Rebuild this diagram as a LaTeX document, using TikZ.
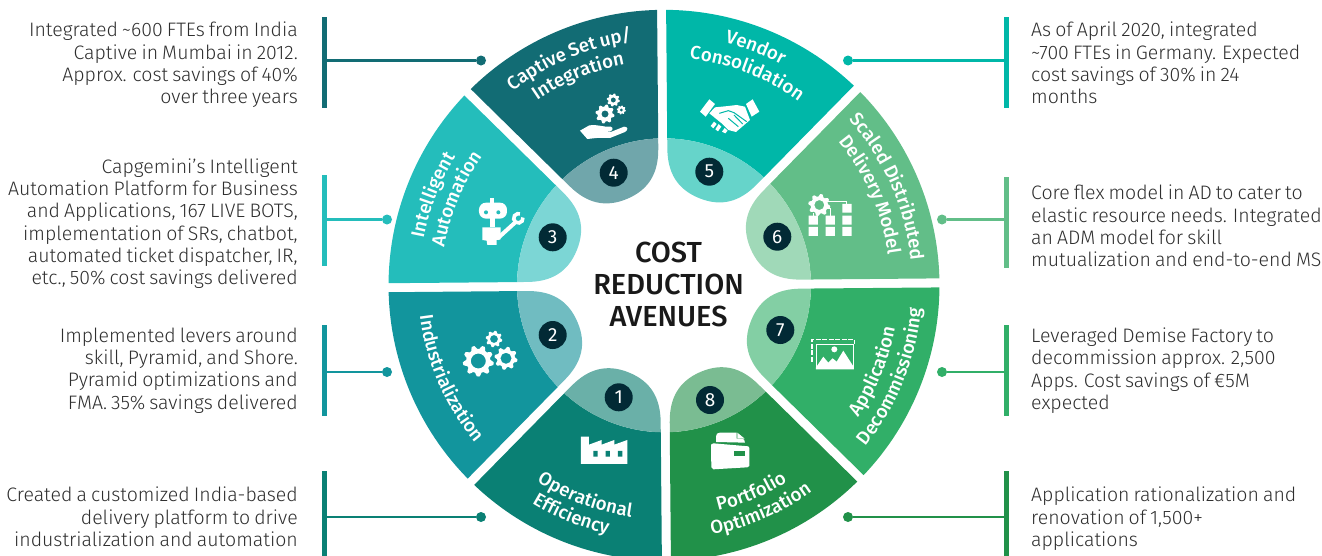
\documentclass[tikz,border=0pt]{standalone}
\usepackage{fontspec}
\setmainfont[WordSpace=0.75]{Fira Sans Light}
\newfontfamily\medf[WordSpace=0.8]{Fira Sans Medium}
\newfontfamily\regf{Fira Sans}
\usetikzlibrary{decorations.text,shapes.geometric}
\definecolor{cA}{HTML}{0A8074}\definecolor{lA}{HTML}{6AB0A8}
\definecolor{cB}{HTML}{12959D}\definecolor{lB}{HTML}{70BCC1}
\definecolor{cC}{HTML}{24BDBB}\definecolor{lC}{HTML}{7CD6D5}
\definecolor{cD}{HTML}{126C74}\definecolor{lD}{HTML}{70A6AB}
\definecolor{cE}{HTML}{00B7A8}\definecolor{lE}{HTML}{66D4CA}
\definecolor{cF}{HTML}{62BE88}\definecolor{lF}{HTML}{A0D9B8}
\definecolor{cG}{HTML}{31AF68}\definecolor{lG}{HTML}{83CFA4}
\definecolor{cH}{HTML}{219149}\definecolor{lH}{HTML}{7ABC92}
\definecolor{numc}{HTML}{022A35}
\definecolor{bodyc}{HTML}{2E2E2E}
\newcommand\fs{\rule{0pt}{14pt}}
\newcommand\tf{\rule{0pt}{21pt}}
\newcommand\lblfont{\medf\fontsize{18.7}{20}\selectfont\color{white}}
% sector: bisector angle, dark, light
\newcommand\sector[3]{%
 \begin{scope}[rotate=#1]
  \fill[#2] (21.56:275.5pt) arc[start angle=21.56,end angle=-21.56,radius=275.5pt]
     -- (-20.745:147pt) arc[start angle=-20.745,end angle=20.745,radius=147pt] -- cycle;
  \fill[#3] (-20.745:147pt) arc[start angle=-20.745,end angle=20.745,radius=147pt]
     -- (128pt,48.1pt) .. controls (106pt,39pt) and (94pt,24pt) .. (94pt,0pt)
     .. controls (94pt,-24pt) and (106pt,-39pt) .. (128pt,-48.1pt) -- cycle;
 \end{scope}}
% arc label: centre angle, radius, half span (signed: + = clockwise path), text
\newcommand\arclabel[4]{%
 \path[decorate,decoration={text along path,text align=center,text={|\lblfont|#4}}]
   ({#1+#3}:#2pt) arc[start angle={#1+#3},end angle={#1-#3},radius=#2pt];}
\newcommand\gear[5]{%
 \fill[white,even odd rule] plot[domain=0:360,samples=#4*8+1,variable=\t]
   ({#1+#3*(0.78+0.22*min(1,max(0,0.5+1.5*sin(#4*\t))))*cos(\t)},
    {#2+#3*(0.78+0.22*min(1,max(0,0.5+1.5*sin(#4*\t))))*sin(\t)}) -- cycle
   (#1,#2) circle[radius=#5];}
\tikzset{
 bodyl/.style={anchor=north east,align=right,inner sep=0pt,text=bodyc,font=\fontsize{19.5}{22.3}\selectfont},
 bodyr/.style={anchor=north west,align=left,inner sep=0pt,text=bodyc,font=\fontsize{19.5}{22.3}\selectfont},
 leadbar/.style={draw=none,fill=#1,minimum width=5pt,inner sep=0pt,outer sep=0pt,rectangle},
 leaddot/.style={circle,fill=#1,minimum size=10pt,inner sep=0pt,outer sep=0pt},
 leadline/.style={draw=#1,line width=2.6pt},
 numdot/.style={circle,fill=numc,text=white,minimum size=28pt,inner sep=0pt,font=\regf\fontsize{19}{20}\selectfont},
 zTL/.style={shift={(380pt,0pt)},x=.3333pt,y=-.3333pt},
 zTR/.style={shift={(660pt,0pt)},x=.3333pt,y=-.3333pt},
 zBL/.style={shift={(380pt,-280pt)},x=.3333pt,y=-.3333pt},
 zBR/.style={shift={(660pt,-280pt)},x=.3333pt,y=-.3333pt},
}
\begin{document}
\begin{tikzpicture}[x=1pt,y=-1pt]
\useasboundingbox (0,0) rectangle (1322,555);
% sectors
\begin{scope}[shift={(664pt,-285.3pt)},rotate=0.5]
 \sector{247.5}{cA}{lA}
 \sector{202.5}{cB}{lB}
 \sector{157.5}{cC}{lC}
 \sector{112.5}{cD}{lD}
 \sector{67.5}{cE}{lE}
 \sector{22.5}{cF}{lF}
 \sector{-22.5}{cG}{lG}
 \sector{-67.5}{cH}{lH}
\end{scope}
% labels along arcs
\begin{scope}[shift={(664pt,-285.3pt)}]
 \arclabel{112.7}{246}{35}{Captive Set up/}
 \arclabel{112.3}{224}{35}{Integration}
 \arclabel{158.7}{245}{35}{Intelligent}
 \arclabel{157.4}{223}{35}{Automation}
 \arclabel{68.9}{250}{35}{Vendor}
 \arclabel{68.7}{228}{35}{Consolidation}
 \arclabel{23.8}{248}{35}{Scaled Distributed}
 \arclabel{23.6}{226}{35}{Delivery Model}
 \arclabel{203.5}{246}{-35}{Industrialization}
 \arclabel{249.5}{234}{-35}{Operational}
 \arclabel{248}{255}{-35}{Efficiency}
 \arclabel{-22.3}{235}{-35}{Application}
 \arclabel{-21.9}{258}{-35}{Decommissioning}
 \arclabel{-67.2}{232}{-35}{Portfolio}
 \arclabel{-66.7}{254}{-35}{Optimization}
\end{scope}
% number discs
\node[numdot] (n1) at (618.7,397.3) {1};
\node[numdot] (n2) at (552.7,335) {2};
\node[numdot] (n3) at (552.7,237.3) {3};
\node[numdot] (n4) at (613.7,172.7) {4};
\node[numdot] (n5) at (709.3,171.7) {5};
\node[numdot] (n6) at (777.3,236.7) {6};
\node[numdot] (n7) at (780.3,330) {7};
\node[numdot] (n8) at (710,400) {8};
% title
\node[anchor=north,align=center,inner sep=0pt,text=black!90,font=\medf\fontsize{29}{32}\selectfont] (title) at (668.5,241) {\tf COST\\REDUCTION\\AVENUES};
% leaders, left
\node[leadbar=cD,minimum height=91pt] (b4) at (324.2,62.5) {};
\node[leaddot=cD] (d4) at (481,60.5) {};
\draw[leadline=cD] (b4 |- d4) -- (d4);
\node[leadbar=cC,minimum height=91pt] (b3) at (324.2,220) {};
\node[leaddot=cC] (d3) at (387,219.5) {};
\draw[leadline=cC] (b3 |- d3) -- (d3);
\node[leadbar=cB,minimum height=91pt] (b2) at (324.2,370.5) {};
\node[leaddot=cB] (d2) at (387,372) {};
\draw[leadline=cB] (b2 |- d2) -- (d2);
\node[leadbar=cA,minimum height=91pt] (b1) at (324.2,516) {};
\node[leaddot=cA] (d1) at (481,517) {};
\draw[leadline=cA] (b1 |- d1) -- (d1);
% leaders, right
\node[leadbar=cE,minimum height=91pt] (b5) at (1006,62.5) {};
\node[leaddot=cE] (d5) at (848,60.5) {};
\draw[leadline=cE] (b5 |- d5) -- (d5);
\node[leadbar=cF,minimum height=91pt] (b6) at (1006,222) {};
\node[leaddot=cF] (d6) at (942,219.5) {};
\draw[leadline=cF] (b6 |- d6) -- (d6);
\node[leadbar=cG,minimum height=91pt] (b7) at (1006,370.5) {};
\node[leaddot=cG] (d7) at (942,372) {};
\draw[leadline=cG] (b7 |- d7) -- (d7);
\node[leadbar=cH,minimum height=91pt] (b8) at (1006,516) {};
\node[leaddot=cH] (d8) at (848,517) {};
\draw[leadline=cH] (b8 |- d8) -- (d8);
% body texts
\node[bodyl] (t4) at (298,22) {\fs Integrated \textasciitilde600 FTEs from India\\Captive in Mumbai in 2012.\\Approx. cost savings of 40\%\\over three years};
\node[bodyl] (t3) at (298,158.3) {\fs Capgemini’s Intelligent\\Automation Platform for Business\\and Applications, 167 LIVE BOTS,\\implementation of SRs, chatbot,\\automated ticket dispatcher, IR,\\etc., 50\% cost savings delivered};
\node[bodyl] (t2) at (298,327.7) {\fs Implemented levers around\\skill, Pyramid, and Shore.\\Pyramid optimizations and\\FMA. 35\% savings delivered};
\node[bodyl] (t1) at (298,487) {\fs Created a customized India-based\\delivery platform to drive\\industrialization and automation};
\node[bodyr] (t5) at (1031,22) {\fs As of April 2020, integrated\\\textasciitilde700 FTEs in Germany. Expected\\cost savings of 30\% in 24\\months};
\node[bodyr] (t6) at (1031,185) {\fs Core flex model in AD to cater to\\elastic resource needs. Integrated\\an ADM model for skill\\mutualization and end-to-end MS};
\node[bodyr] (t7) at (1031,327.7) {\fs Leveraged Demise Factory to\\decommission approx. 2,500\\Apps. Cost savings of €5M\\expected};
\node[bodyr] (t8) at (1031,487) {\fs Application rationalization and\\renovation of 1,500+\\applications};
% icon 4: gears in a hand
\gear{605}{114}{9.5}{8}{3.6}
\gear{613.3}{100}{6.5}{8}{2.6}
\gear{621.3}{110}{4.5}{8}{1.7}
\begin{scope}[zTL]
 \fill[white] (600,392) -- (628,376) .. controls (650,372) and (670,382) .. (692,380)
   .. controls (700,382) and (700,392) .. (690,394) -- (665,396) -- (692,396) -- (732,380) .. controls (745,380) and (745,390) .. (735,396)
   -- (690,414) -- (650,414) -- (622,417) -- cycle;
\end{scope}
% icon 3: robot with wrench
\begin{scope}[zTL]
 \fill[white] (331,594) rectangle (341,610);
 \fill[white,rounded corners=7pt] (297,608) rectangle (381,656);
 \fill[cC] (318,637) circle[radius=6] (355,637) circle[radius=6];
 \fill[white] (330,655) rectangle (345,682);
 \fill[white] (307,682) -- (362,682) -- (362,718) -- (350,720) -- (350,735) -- (322,735) -- (320,722) -- (307,720) -- cycle;
 \draw[white,line width=4pt] (352,716) -- (405,668);
 \draw[white,line width=3.6pt] (428.8,652.6) arc[start angle=-10,end angle=290,radius=14];
\end{scope}
% icon 5: handshake
\begin{scope}[zTR]
 \fill[white] (120,335) -- (148,298) -- (165,312) -- (137,350) -- cycle;
 \fill[white] (258,312) -- (278,298) -- (298,335) -- (275,350) -- cycle;
 \fill[white] (165,322) -- (205,318) -- (230,315) -- (255,320) -- (270,360) -- (228,396) -- (205,390) -- (185,370) -- (148,340) -- cycle;
 \fill[white] (152,378) -- (162,365) -- (170,372) -- (160,385) -- cycle
   (166,388) -- (176,372) -- (184,380) -- (174,394) -- cycle
   (186,395) -- (194,384) -- (203,392) -- (196,400) -- cycle;
 \draw[cE,line width=1pt] (178,340) -- (205,332) -- (222,338) -- (260,365)
   (205,355) -- (235,380) (222,345) -- (248,372);
\end{scope}
% icon 6: process diagram
\gear{819.3}{205}{11}{8}{5}
\begin{scope}[zTR]
 \fill[white] (446,647) rectangle (474,674) (446,681) rectangle (474,708);
 \fill[white] (497,647) rectangle (525,674) (497,681) rectangle (525,708);
 \fill[white] (547,612) rectangle (575,638) (547,647) rectangle (575,674) (547,681) rectangle (575,708);
 \draw[white,line width=.9pt] (505,603) -- (560,603) -- (560,612) (510,625) -- (510,647) (490,625) -- (510,625) (460,640) -- (460,647);
\end{scope}
% icon 7: picture
\begin{scope}[zBR]
 \draw[white,line width=1.5pt,dash pattern=on 5pt off 1.5pt] (456,245) -- (456,178) -- (583,178) -- (583,192);
 \draw[white,line width=.9pt] (470,268) -- (470,192) -- (580,192) -- (580,268);
 \fill[white] (468,268) -- (468,262) -- (490,230) -- (505,248) -- (518,235) -- (530,245) -- (550,212) -- (582,262) -- (582,268) -- cycle;
 \fill[white] (523,208) circle[radius=9];
\end{scope}
% icon 2: gears
\gear{478.3}{361}{15.5}{9}{7.5}
\gear{506}{358.3}{11.5}{8}{5.6}
\gear{494}{339}{8.3}{8}{4}
% icon 1: factory
\begin{scope}[zBL]
 \fill[white] (603,470) -- (627,470) -- (627,494) -- (665,480) -- (665,494) -- (703,480) -- (703,494) -- (742,480) -- (742,552) -- (603,552) -- cycle;
 \fill[cA] (640,513) rectangle (653,530) (677,513) rectangle (690,530) (714,513) rectangle (727,530);
\end{scope}
% icon 8: folder
\begin{scope}[zBR]
 \fill[white] (168,470) .. controls (168,462) and (172,458) .. (180,458) -- (230,458) -- (230,476) -- (252,478) -- (255,488) -- (168,486) -- cycle;
 \fill[white] (232,458) -- (254,476) -- (232,476) -- cycle;
 \fill[white] (153,494) -- (160,490) -- (265,499) -- (268,504) -- (268,558) -- (262,562) -- (160,568) -- (154,562) -- cycle;
 \fill[cH] (222,512) -- (255,512) -- (255,528) -- (222,528) -- cycle;
\end{scope}
\end{tikzpicture}
\end{document}
